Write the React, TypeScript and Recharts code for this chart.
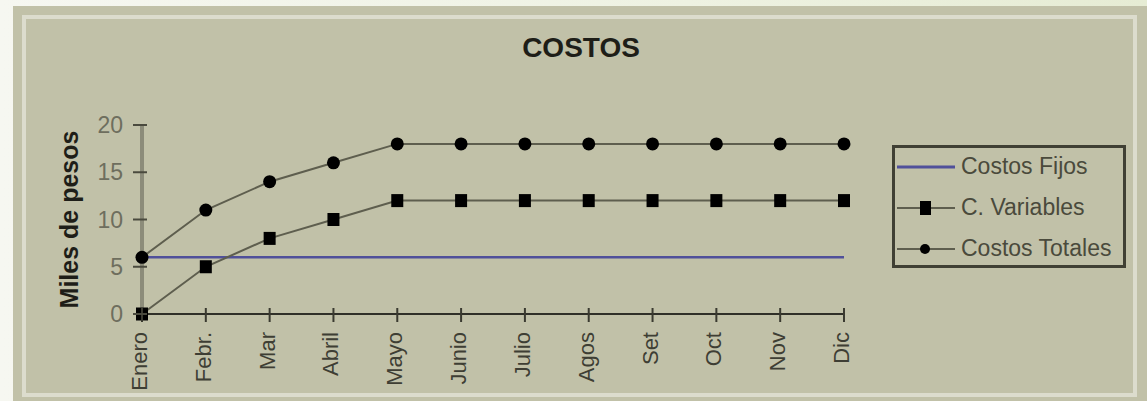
import { LineChart, Line, XAxis, YAxis, Legend } from 'recharts'

const MONTHS = ['Enero', 'Febr.', 'Mar', 'Abril', 'Mayo', 'Junio', 'Julio', 'Agos', 'Set', 'Oct', 'Nov', 'Dic']
const COSTOS_FIJOS = [6, 6, 6, 6, 6, 6, 6, 6, 6, 6, 6, 6]
const C_VARIABLES = [0, 5, 8, 10, 12, 12, 12, 12, 12, 12, 12, 12]
const COSTOS_TOTALES = [6, 11, 14, 16, 18, 18, 18, 18, 18, 18, 18, 18]
const Y_TICKS = [0, 5, 10, 15, 20]

const FONT = '"Liberation Sans", Arial, sans-serif'
const BLUE = '#50509a'
const LINE_GRAY = '#5e5e4e'

const data = MONTHS.map((m, i) => ({
  month: m,
  fijos: COSTOS_FIJOS[i],
  variables: C_VARIABLES[i],
  totales: COSTOS_TOTALES[i],
}))

function YTick({ x, y, payload }: any) {
  const ax = x + 19
  return (
    <g>
      <line x1={ax - 9} x2={ax + 5} y1={y} y2={y} stroke="#4a4a3e" strokeWidth={2} />
      <text x={x} y={y} textAnchor="end" dominantBaseline="central" fill="#6e6e5e" fontSize={23} fontFamily={FONT}>
        {payload.value}
      </text>
    </g>
  )
}

function XTick({ x, y, payload }: any) {
  const ay = y - 18
  return (
    <g>
      <line x1={x} x2={x} y1={ay - 6} y2={ay + 8} stroke="#3a3a30" strokeWidth={2} />
      <text
        x={x}
        y={y}
        dy={5}
        textAnchor="end"
        transform={`rotate(-90, ${x}, ${y})`}
        fill="#3e3e34"
        fontSize={22}
        fontFamily={FONT}
      >
        {payload.value}
      </text>
    </g>
  )
}

function SquareDot({ cx, cy, index }: any) {
  return <rect key={`sq-${index}`} x={cx - 6} y={cy - 6.5} width={12} height={13} fill="#000" />
}

function CircleDot({ cx, cy, index }: any) {
  return <circle key={`ci-${index}`} cx={cx} cy={cy} r={6.5} fill="#000" />
}

function LegendBox() {
  const rows = [
    { label: 'Costos Fijos', kind: 'line' },
    { label: 'C. Variables', kind: 'square' },
    { label: 'Costos Totales', kind: 'circle' },
  ]
  return (
    <div
      style={{
        boxSizing: 'border-box',
        width: 234,
        height: 123,
        border: '3px solid #404034',
        paddingTop: 0,
        fontFamily: FONT,
        fontSize: 23,
        color: '#4a4a3c',
      }}
    >
      {rows.map((r) => (
        <div key={r.label} style={{ display: 'flex', alignItems: 'center', height: 41, marginTop: r.kind === 'line' ? -2 : 0 }}>
          <svg width={66} height={20} style={{ flexShrink: 0 }}>
            <line x1={2} x2={60} y1={10} y2={10} stroke={r.kind === 'line' ? BLUE : LINE_GRAY} strokeWidth={r.kind === 'line' ? 3 : 2} />
            {r.kind === 'square' && <rect x={25} y={3} width={11} height={14} fill="#000" />}
            {r.kind === 'circle' && <circle cx={30} cy={10} r={5} fill="#000" />}
          </svg>
          <span style={{ whiteSpace: 'nowrap' }}>{r.label}</span>
        </div>
      ))}
    </div>
  )
}

export default function App() {
  return (
    <div
      style={{
        position: 'absolute',
        left: 0,
        top: 0,
        width: 1147,
        height: 401,
        overflow: 'hidden',
        background: 'linear-gradient(90deg, #f6f7f1 0%, #eef2e2 60%, #e6ecd4 100%)',
      }}
    >
      <div style={{ position: 'absolute', left: 13, top: 6, width: 1134, height: 395, background: '#c1c1a8' }} />
      <div
        style={{
          position: 'absolute',
          left: 22,
          top: 15,
          width: 1115,
          height: 382,
          boxSizing: 'border-box',
          border: '4px solid #dcdccd',
        }}
      />
      <div
        style={{
          position: 'absolute',
          left: 481,
          top: 34,
          width: 200,
          textAlign: 'center',
          fontFamily: FONT,
          fontWeight: 'bold',
          fontSize: 28,
          lineHeight: 1,
          color: '#1e1e18',
        }}
      >
        COSTOS
      </div>
      <div style={{ position: 'absolute', left: 0, top: 0 }}>
        <LineChart width={1147} height={401} data={data} margin={{ top: 125, right: 69, bottom: 0, left: 20 }}>
          <XAxis
            dataKey="month"
            scale="point"
            padding={{ left: 0, right: 0 }}
            height={87}
            interval={0}
            tickSize={0}
            tickMargin={18}
            tick={<XTick />}
            axisLine={{ stroke: '#303028', strokeWidth: 2 }}
            tickLine={false}
          />
          <YAxis
            width={122}
            domain={[0, 20]}
            ticks={Y_TICKS}
            tickSize={0}
            tickMargin={19}
            tick={<YTick />}
            axisLine={{ stroke: '#8c8c7a', strokeWidth: 4 }}
            tickLine={false}
            label={{
              content: ({ viewBox }: any) => {
                const cy = viewBox.y + viewBox.height / 2
                return (
                  <text
                    x={78}
                    y={cy}
                    textAnchor="middle"
                    transform={`rotate(-90, 78, ${cy})`}
                    fontFamily={FONT}
                    fontWeight="bold"
                    fontSize={25}
                    fill="#1e1e18"
                  >
                    Miles de pesos
                  </text>
                )
              },
            }}
          />
          <Legend
            layout="vertical"
            align="right"
            verticalAlign="middle"
            content={<LegendBox />}
            wrapperStyle={{ left: 892, top: 145, width: 234, height: 123 }}
          />
          <Line
            dataKey="fijos"
            name="Costos Fijos"
            stroke={BLUE}
            strokeWidth={2.5}
            dot={false}
            activeDot={false}
            isAnimationActive={false}
          />
          <Line
            dataKey="variables"
            name="C. Variables"
            stroke={LINE_GRAY}
            strokeWidth={2}
            dot={<SquareDot />}
            activeDot={false}
            isAnimationActive={false}
          />
          <Line
            dataKey="totales"
            name="Costos Totales"
            stroke={LINE_GRAY}
            strokeWidth={2}
            dot={<CircleDot />}
            activeDot={false}
            isAnimationActive={false}
          />
        </LineChart>
      </div>
    </div>
  )
}
